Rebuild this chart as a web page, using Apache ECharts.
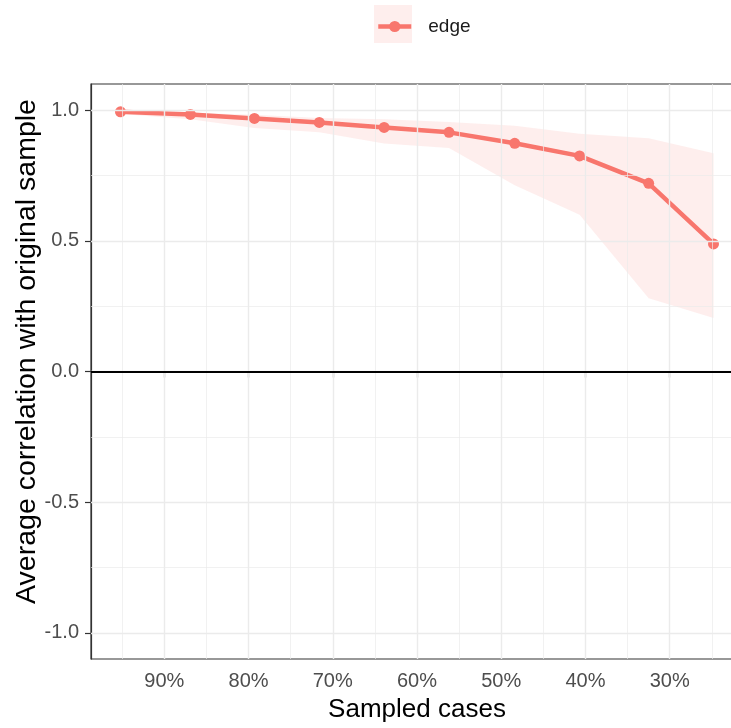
<!DOCTYPE html>
<html>
<head>
<meta charset="utf-8">
<script src="https://cdn.jsdelivr.net/npm/echarts@6/dist/echarts.min.js"></script>
<style>
  html, body { margin: 0; padding: 0; background: #fff; }
  #chart { width: 731px; height: 728px; }
</style>
</head>
<body>
<div id="chart"></div>
<script>
// share of cases kept (%)
const sampled = [95.2, 86.9, 79.3, 71.6, 63.9, 56.2, 48.4, 40.7, 32.5, 24.8];
const meanCor = [0.9935, 0.9836, 0.9683, 0.953, 0.934, 0.915, 0.873, 0.825, 0.72, 0.488];
const upperCor = [0.998, 0.99, 0.982, 0.97, 0.965, 0.955, 0.94, 0.91, 0.892, 0.835];
const lowerCor = [0.985, 0.965, 0.932, 0.915, 0.872, 0.855, 0.713, 0.6, 0.28, 0.205];

const xTicks = [30, 40, 50, 60, 70, 80, 90];
const xMinor = [25, 35, 45, 55, 65, 75, 85, 95];
const yTicks = [-1, -0.5, 0, 0.5, 1];
const yMinor = [-0.75, -0.25, 0.25, 0.75];

const RED = '#F8766D';
const FILL = 'rgba(248,118,109,0.12)';
const FONT = '"Liberation Sans", Arial, sans-serif';

let chart = echarts.init(document.getElementById('chart'));

function gridLines(values, dim, width) {
    return values.map(function (v) {
        let d = {};
        d[dim] = v;
        d.lineStyle = { color: '#EBEBEB', width: width, type: 'solid' };
        return d;
    });
}

chart.setOption({
    animation: false,
    textStyle: { fontFamily: FONT },
    graphic: [{
        type: 'rect',
        shape: { x: 374, y: 5, width: 38, height: 38 },
        style: { fill: FILL },
        z: -1
    }],
    legend: {
        data: ['edge'],
        left: 376,
        top: 17,
        padding: 0,
        itemWidth: 33,
        itemHeight: 14,
        lineStyle: { width: 4.5 },
        textStyle: { fontSize: 19, color: '#1a1a1a', padding: [0, 0, 0, 12] }
    },
    grid: {
        left: 91,
        top: 84,
        width: 652,
        height: 575,
        containLabel: false,
        outerBoundsMode: 'none',
        show: true,
        borderColor: '#333333',
        borderWidth: 1.2,
        backgroundColor: 'transparent'
    },
    xAxis: {
        type: 'value',
        inverse: true,
        min: 21.3,
        max: 98.7,
        name: 'Sampled cases',
        nameLocation: 'middle',
        nameGap: 38,
        nameTextStyle: { fontSize: 26, color: '#000' },
        axisLine: { show: true, lineStyle: { color: '#333333', width: 1.2 } },
        axisTick: { show: true, length: 6, customValues: xTicks, lineStyle: { color: '#333333', width: 1.2 } },
        axisLabel: {
            customValues: xTicks,
            margin: 12,
            fontSize: 20,
            color: '#4D4D4D',
            formatter: function (v) { return v + '%'; }
        },
        splitLine: { show: false }
    },
    yAxis: {
        type: 'value',
        min: -1.1,
        max: 1.1,
        name: 'Average correlation with original sample',
        nameLocation: 'middle',
        nameGap: 49,
        nameMoveOverlap: false,
        nameTextStyle: { fontSize: 28.5, color: '#000', padding: [0, 0, 0, 40] },
        axisLine: { show: true, lineStyle: { color: '#333333', width: 1.2 } },
        axisTick: { show: true, length: 6, customValues: yTicks, lineStyle: { color: '#333333', width: 1.2 } },
        axisLabel: {
            customValues: yTicks,
            margin: 12,
            fontSize: 20,
            color: '#4D4D4D',
            formatter: function (v) { return v.toFixed(1); }
        },
        splitLine: { show: false }
    },
    series: [
        {
            // panel grid lines and the zero line
            type: 'line',
            name: 'grid',
            data: [],
            z: 1,
            silent: true,
            markLine: {
                silent: true,
                symbol: 'none',
                label: { show: false },
                animation: false,
                data: []
                    .concat(gridLines(xMinor, 'xAxis', 0.7))
                    .concat(gridLines(yMinor, 'yAxis', 0.7))
                    .concat(gridLines(xTicks, 'xAxis', 1.4))
                    .concat(gridLines(yTicks, 'yAxis', 1.4))
                    .concat([{ yAxis: 0, lineStyle: { color: '#000', width: 2, type: 'solid' } }])
            }
        },
        {
            type: 'custom',
            name: 'band',
            z: 2,
            silent: true,
            data: [[sampled[0], upperCor[0]]],
            renderItem: function (params, api) {
                let pts = [];
                for (let i = 0; i < sampled.length; i++) {
                    pts.push(api.coord([sampled[i], upperCor[i]]));
                }
                for (let i = sampled.length - 1; i >= 0; i--) {
                    pts.push(api.coord([sampled[i], lowerCor[i]]));
                }
                return { type: 'polygon', shape: { points: pts }, style: { fill: FILL } };
            }
        },
        {
            type: 'line',
            name: 'edge',
            z: 3,
            clip: false,
            data: sampled.map(function (x, i) { return [x, meanCor[i]]; }),
            symbol: 'circle',
            symbolSize: 11,
            itemStyle: { color: RED, borderWidth: 0 },
            lineStyle: { color: RED, width: 4.5 }
        }
    ]
});
</script>
</body>
</html>
